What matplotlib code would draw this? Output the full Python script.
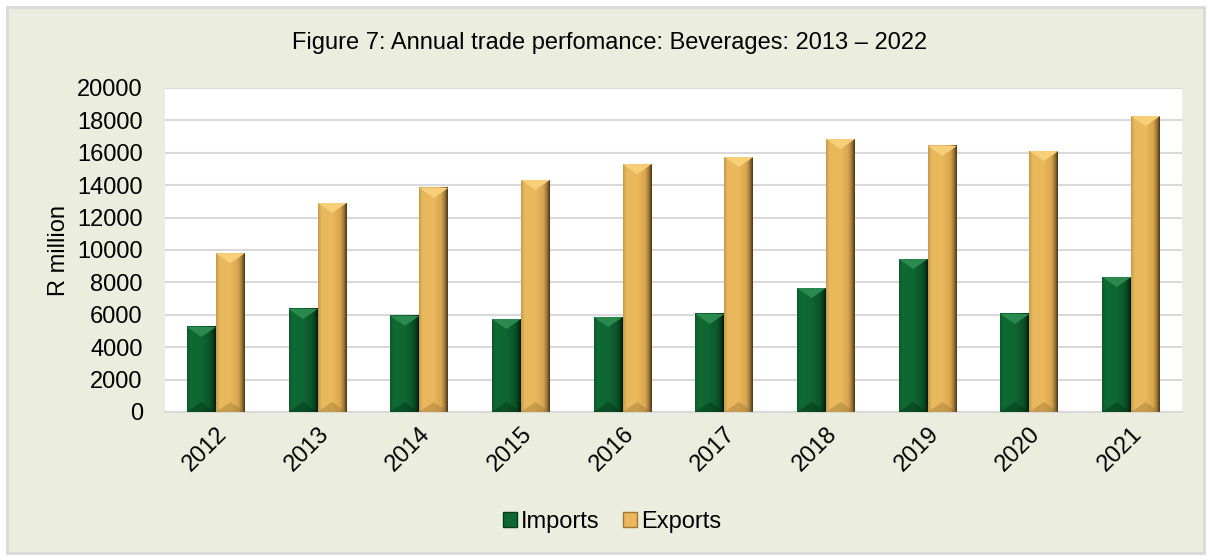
import matplotlib.pyplot as plt
import numpy as np
from matplotlib.colors import LinearSegmentedColormap
from matplotlib.patches import Rectangle, Polygon

plt.rcParams['font.family'] = ['Liberation Sans', 'DejaVu Sans']

years = ['2012', '2013', '2014', '2015', '2016', '2017', '2018', '2019', '2020', '2021']
imports = [5250, 6360, 5930, 5740, 5860, 6050, 7650, 9440, 6050, 8330]
exports = [9800, 12900, 13830, 14320, 15300, 15740, 16850, 16420, 16110, 18270]

# horizontal shading for the bevelled bars: lit left edge, dark right edge
green_cmap = LinearSegmentedColormap.from_list(
    'green_bar', [(0, '#0d5a2b'), (0.12, '#0e6a33'), (0.5, '#0f6632'), (0.8, '#0b5428'), (0.92, '#063a1a'), (1, '#011a09')])
gold_cmap = LinearSegmentedColormap.from_list(
    'gold_bar', [(0, '#c49a4c'), (0.12, '#e9b95e'), (0.5, '#ebb85b'), (0.78, '#d8a550'), (0.9, '#9c7838'), (1, '#4a3714')])

fig = plt.figure(figsize=(12.11, 5.6), dpi=100)
fig.patch.set_facecolor('white')
fig.add_artist(Rectangle((7 / 1211, 7 / 560), 1197 / 1211, 546 / 560, transform=fig.transFigure,
                         facecolor='#ebeede', edgecolor='#d9d9d9', lw=2, zorder=-10))

ax = fig.add_axes([165 / 1211, 1 - 412 / 560, 1017 / 1211, 324 / 560])
ax.set_facecolor('white')

x = np.arange(len(years))
w = 0.285
b_imp = ax.bar(x - w / 2, imports, w, color='#0f6632', edgecolor='none', zorder=2, label='Imports')
b_exp = ax.bar(x + w / 2, exports, w, color='#ebb85b', edgecolor='none', zorder=2, label='Exports')

ax.set_xlim(-0.5, len(years) - 0.5)
ax.set_ylim(0, 20000)
ax.set_yticks(range(0, 20001, 2000))
ax.set_xticks(x)
ax.set_xticklabels(years, rotation=45, ha='right', rotation_mode='anchor')
ax.grid(axis='y', color='#d9d9d9', lw=1.5, zorder=0)
ax.set_axisbelow(True)
for s in ['top', 'right', 'left']:
    ax.spines[s].set_visible(False)
ax.spines['bottom'].set_color('#d9d9d9')
ax.spines['bottom'].set_linewidth(1.5)
ax.tick_params(axis='y', length=0, pad=16, labelsize=17)
ax.tick_params(axis='x', length=0, pad=8, labelsize=17)
ax.set_ylabel('R million', fontsize=17, labelpad=5)

# bevel depth in data units, ~10 px tall and the full half-width across
px_per_unit = 324 / 20000
depth = 10 / px_per_unit


def bevel(bars, cmap, top_col, bot_col):
    for r in bars:
        x0, h, bw = r.get_x(), r.get_height(), r.get_width()
        x1 = x0 + bw
        grad = np.linspace(0, 1, 64).reshape(1, -1)
        ax.imshow(grad, cmap=cmap, extent=(x0, x1, 0, h), aspect='auto', zorder=3, interpolation='bilinear')
        d = min(depth, h / 2)
        ax.add_patch(Polygon([(x0, h), (x1, h), (x0 + bw / 2, h - d)], closed=True,
                             facecolor=top_col, edgecolor='none', zorder=4))
        ax.add_patch(Polygon([(x0, 0), (x1, 0), (x0 + bw / 2, d)], closed=True,
                             facecolor=bot_col, edgecolor='none', zorder=4, alpha=0.35))


bevel(b_imp, green_cmap, '#2a8a4e', '#02240d')
bevel(b_exp, gold_cmap, '#f6cf78', '#8a6a30')
ax.set_xlim(-0.5, len(years) - 0.5)
ax.set_ylim(0, 20000)

fig.text(610 / 1211, 1 - 43 / 560, 'Figure 7: Annual trade perfomance: Beverages: 2013 \u2013 2022',
         ha='center', va='center', fontsize=17)

h_imp = Rectangle((0, 0), 1, 1, facecolor='#0f6632', edgecolor='#063a1a')
h_exp = Rectangle((0, 0), 1, 1, facecolor='#ebb85b', edgecolor='#9c7838')
fig.legend([h_imp, h_exp], ['Imports', 'Exports'], loc='center', bbox_to_anchor=(612 / 1211, 1 - 522 / 560),
           ncol=2, frameon=False, fontsize=17, handlelength=0.6, handleheight=0.6,
           handletextpad=0.15, columnspacing=1.0)

fig.savefig('out.png', dpi=100, facecolor=fig.get_facecolor())
